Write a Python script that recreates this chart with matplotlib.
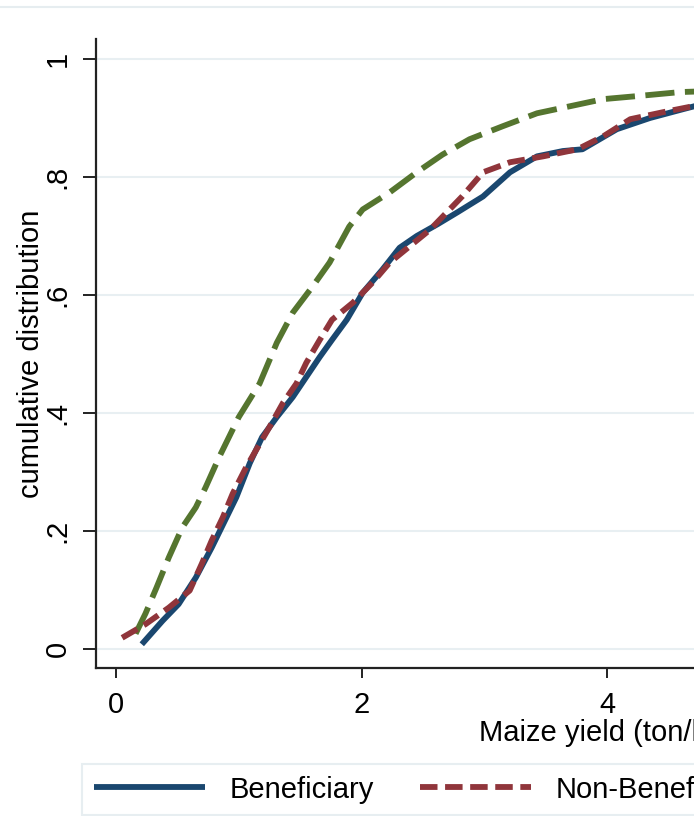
import matplotlib.pyplot as plt
from matplotlib.lines import Line2D

plt.rcParams['font.family'] = ['Liberation Sans', 'DejaVu Sans']

ben_x = [0.21, 0.38, 0.51, 0.65, 0.78, 0.90, 0.98, 1.09, 1.19, 1.31, 1.44, 1.55,
         1.66, 1.76, 1.88, 2.01, 2.17, 2.31, 2.45, 2.62, 2.78, 2.99, 3.21, 3.43,
         3.64, 3.80, 4.08, 4.35, 4.62, 4.75]
ben_y = [0.008, 0.048, 0.076, 0.121, 0.172, 0.223, 0.257, 0.315, 0.359, 0.393,
         0.427, 0.461, 0.495, 0.524, 0.558, 0.604, 0.643, 0.680, 0.700, 0.720,
         0.740, 0.767, 0.808, 0.835, 0.844, 0.847, 0.881, 0.900, 0.915, 0.922]

non_x = [0.05, 0.24, 0.43, 0.60, 0.70, 0.78, 0.87, 0.95, 1.06, 1.25, 1.36, 1.47,
         1.55, 1.66, 1.76, 1.93, 2.09, 2.23, 2.56, 2.82, 2.99, 3.21, 3.48, 3.76,
         3.97, 4.19, 4.46, 4.75]
non_y = [0.019, 0.042, 0.070, 0.099, 0.145, 0.184, 0.223, 0.263, 0.308, 0.376,
         0.417, 0.450, 0.485, 0.524, 0.558, 0.587, 0.621, 0.655, 0.711, 0.767,
         0.808, 0.825, 0.835, 0.847, 0.869, 0.898, 0.910, 0.922]

oth_x = [0.16, 0.24, 0.33, 0.43, 0.54, 0.65, 0.73, 0.84, 1.00, 1.17, 1.31, 1.44,
         1.60, 1.74, 1.90, 2.01, 2.23, 2.45, 2.66, 2.88, 3.15, 3.43, 3.70, 3.97,
         4.24, 4.60, 4.75]
oth_y = [0.026, 0.060, 0.104, 0.155, 0.206, 0.240, 0.274, 0.325, 0.393, 0.450,
         0.519, 0.570, 0.614, 0.655, 0.716, 0.745, 0.774, 0.808, 0.838, 0.864,
         0.886, 0.908, 0.920, 0.932, 0.937, 0.944, 0.945]

labels = ['Beneficiary', 'Non-Beneficiary', 'All']
colors = ['#1a476f', '#90353b', '#55752f']

yticks = [0, 0.2, 0.4, 0.6, 0.8, 1]
ytick_labels = ['0', '.2', '.4', '.6', '.8', '1']
xticks = [0, 2, 4]
xtick_labels = ['0', '2', '4']

W, H = 694, 816
fig = plt.figure(figsize=(W / 100, H / 100), dpi=100)

# axes runs past the right edge of the picture (the original is cropped)
left, right, top, bottom = 96, 1116, 39, 668
ax = fig.add_axes([left / W, 1 - bottom / H, (right - left) / W, (bottom - top) / H])
x0 = -20 / 122.75
ax.set_xlim(x0, x0 + (right - left) / 122.75)
ax.set_ylim(-19 / 590, 1 + 20 / 590)

ax.plot(ben_x, ben_y, color=colors[0], lw=4.2, solid_capstyle='butt', label=labels[0], zorder=3)
ax.plot(non_x, non_y, color=colors[1], lw=4.2, dashes=(3.0, 1.3), label=labels[1], zorder=4)
ax.plot(oth_x, oth_y, color=colors[2], lw=4.2, dashes=(5.0, 1.8), label=labels[2], zorder=2)

ax.set_yticks(yticks)
ax.set_yticklabels(ytick_labels, rotation=90, va='center')
ax.set_xticks(xticks)
ax.set_xticklabels(xtick_labels)
ax.tick_params(axis='both', labelsize=21, width=1.4, color='#222222')
ax.tick_params(axis='y', length=9.4, pad=8)
ax.tick_params(axis='x', length=7.5, pad=9)
ax.grid(axis='y', color='#e8eff2', lw=1.5)
ax.set_axisbelow(True)
for s in ['top', 'right']:
    ax.spines[s].set_visible(False)
for s in ['left', 'bottom']:
    ax.spines[s].set_linewidth(1.6)
    ax.spines[s].set_color('#222222')

fig.text(31 / W, 1 - 354 / H, 'cumulative distribution', rotation=90,
         ha='center', va='center', fontsize=21)
fig.text(606 / W, 1 - 733 / H, 'Maize yield (ton/ha)', ha='center', va='center', fontsize=21)

# faint outer border line at the top
fig.add_artist(Line2D([0, 1], [1 - 7 / H, 1 - 7 / H], color='#e6edf0', lw=1.5))

leg = fig.legend(loc='upper left', bbox_to_anchor=(82 / W, 1 - 764 / H), ncol=3,
                 fontsize=21, handlelength=3.8, handletextpad=0.85, columnspacing=1.6,
                 borderpad=0.4, borderaxespad=0, fancybox=False, frameon=True)
leg.get_frame().set_edgecolor('#e2eaee')
leg.get_frame().set_linewidth(1.5)

fig.savefig('out.png', dpi=100)
